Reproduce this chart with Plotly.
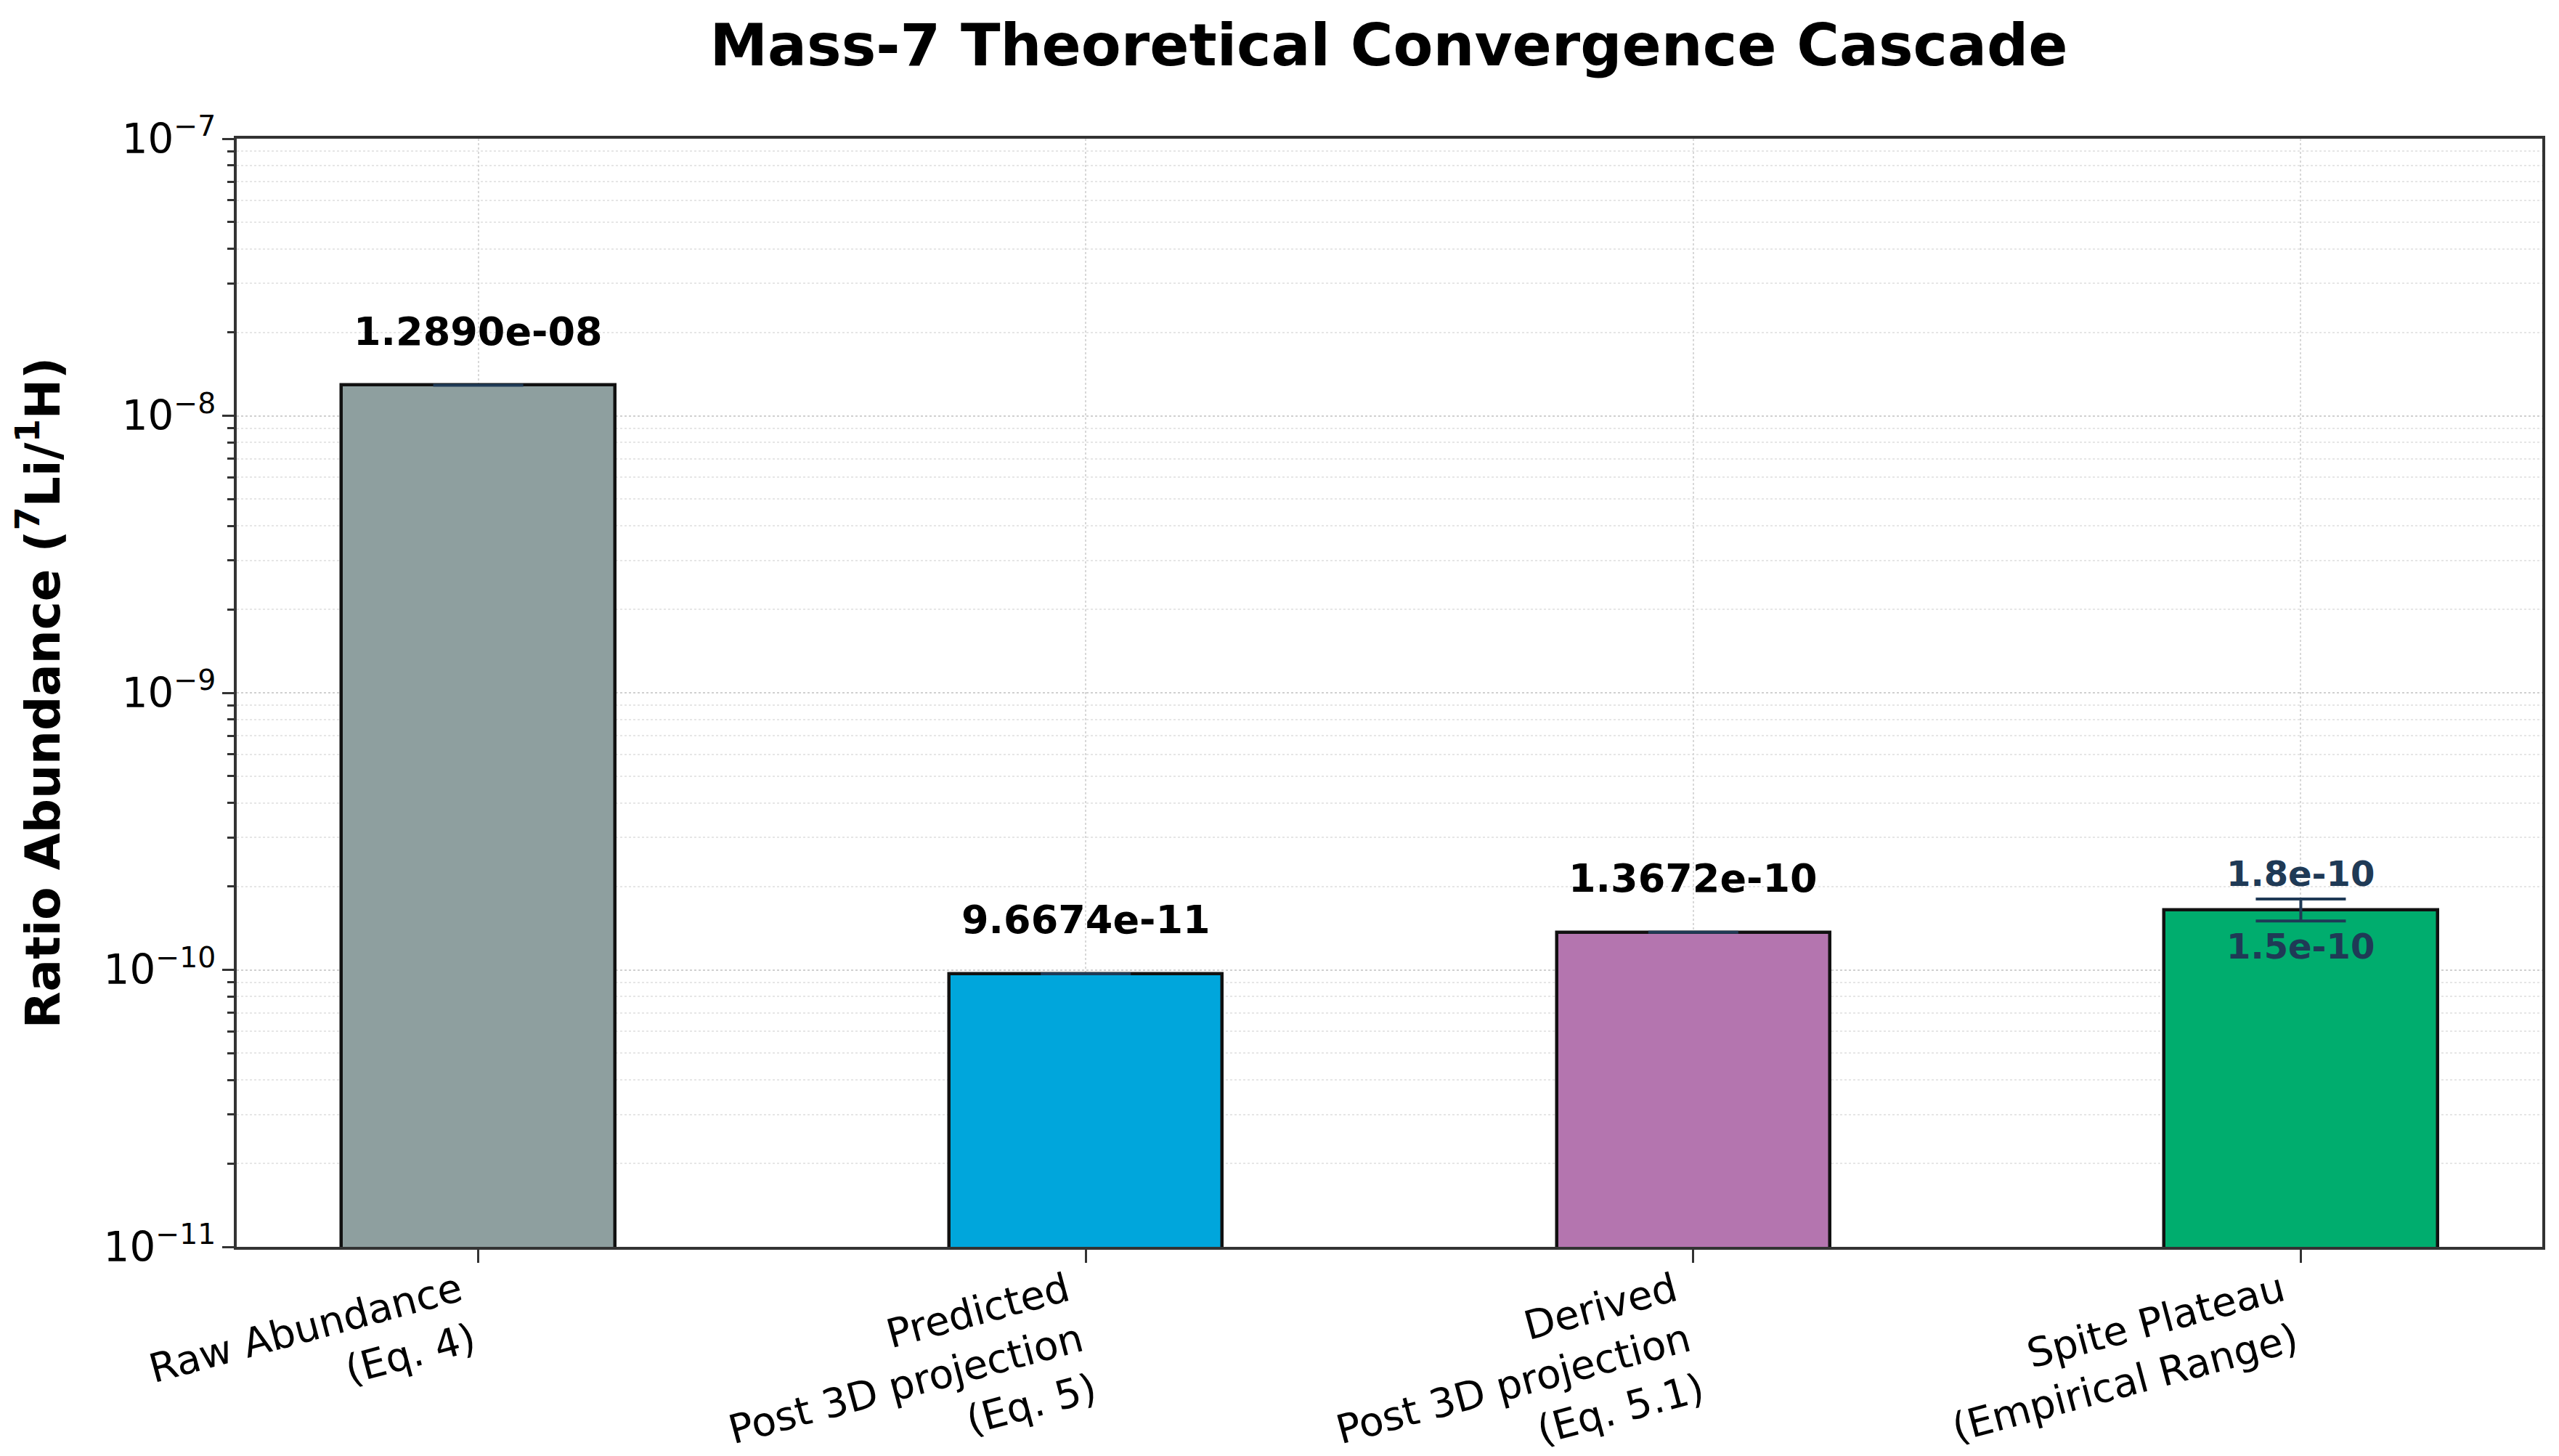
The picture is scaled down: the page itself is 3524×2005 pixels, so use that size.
import math
import plotly.graph_objects as go

# ---- data ----
categories = [
    "Raw Abundance<br>(Eq. 4)",
    "Predicted<br>Post 3D projection<br>(Eq. 5)",
    "Derived<br>Post 3D projection<br>(Eq. 5.1)",
    "Spite Plateau<br>(Empirical Range)",
]
values = [1.2890e-08, 9.6674e-11, 1.3672e-10, 1.65e-10]
value_labels = ["1.2890e-08", "9.6674e-11", "1.3672e-10", None]
spite_low = 1.5e-10
spite_high = 1.8e-10
err_plus = [0, 0, 0, spite_high - values[3]]
err_minus = [0, 0, 0, values[3] - spite_low]
bar_colors = ["#8E9F9F", "#00A6DC", "#B475AF", "#00AD6E"]
title_text = "Mass-7 Theoretical Convergence Cascade"
y_title = "Ratio Abundance (<sup>7</sup>Li/<sup>1</sup>H)"

FONT = "DejaVu Sans"
NAVY = "#1F3A56"
x_idx = list(range(len(categories)))

fig = go.Figure()
fig.add_trace(go.Bar(
    x=x_idx, y=values, width=0.45,
    marker=dict(color=bar_colors, line=dict(color="#111111", width=4.5)),
    error_y=dict(type="data", symmetric=False, array=err_plus, arrayminus=err_minus,
                 color=NAVY, thickness=4, width=62, visible=True),
    showlegend=False,
))

annotations = []
for i, (v, lab) in enumerate(zip(values, value_labels)):
    if lab is None:
        continue
    annotations.append(dict(
        x=i, y=math.log10(v * 1.28), xref="x", yref="y", text=f"<b>{lab}</b>",
        showarrow=False, yanchor="bottom", xanchor="center",
        font=dict(family=FONT, size=54, color="#000000")))
annotations.append(dict(
    x=3, y=math.log10(spite_high * 1.03), xref="x", yref="y", text="<b>1.8e-10</b>",
    showarrow=False, yanchor="bottom", xanchor="center",
    font=dict(family=FONT, size=48, color=NAVY)))
annotations.append(dict(
    x=3, y=math.log10(spite_low * 0.97), xref="x", yref="y", text="<b>1.5e-10</b>",
    showarrow=False, yanchor="top", xanchor="center",
    font=dict(family=FONT, size=48, color=NAVY)))

fig.update_layout(
    width=3524, height=2005,
    margin=dict(l=326, r=23, t=191, b=288, autoexpand=False),
    paper_bgcolor="white", plot_bgcolor="white",
    font=dict(family=FONT, color="#000000"),
    title=dict(text=f"<b>{title_text}</b>", x=0.5427, xanchor="center",
               y=0.969, yanchor="middle", font=dict(family=FONT, size=80, color="#000000")),
    annotations=annotations,
    bargap=0,
)
fig.update_xaxes(
    tickmode="array", tickvals=x_idx, ticktext=categories,
    range=[-0.3975, 3.3975], tickangle=-15,
    tickfont=dict(family=FONT, size=55, color="#000000"),
    ticklabelshift=-26, ticklabelstandoff=-14,
    ticks="outside", ticklen=18, tickwidth=2.5, tickcolor="#333333",
    showline=True, linecolor="#333333", linewidth=3.5, mirror=True,
    showgrid=True, gridcolor="#D8D8D8", griddash="dot", gridwidth=2,
    zeroline=False,
)
fig.update_yaxes(
    type="log", range=[-11, -7], dtick=1, exponentformat="power",
    tickfont=dict(family=FONT, size=45, color="#000000"),
    ticks="outside", ticklen=16, tickwidth=3, tickcolor="#333333",
    showline=True, linecolor="#333333", linewidth=3.5, mirror=True,
    showgrid=True, gridcolor="#D0D0D0", griddash="dot", gridwidth=2,
    minor=dict(ticks="outside", ticklen=9, tickwidth=2.5, tickcolor="#333333",
               showgrid=True, gridcolor="#E6E6E6", griddash="dot", gridwidth=1.5),
    title=dict(text=f"<b>{y_title}</b>", font=dict(family=FONT, size=66, color="#000000"),
               standoff=40),
    zeroline=False,
)

fig.write_html("out.html")
